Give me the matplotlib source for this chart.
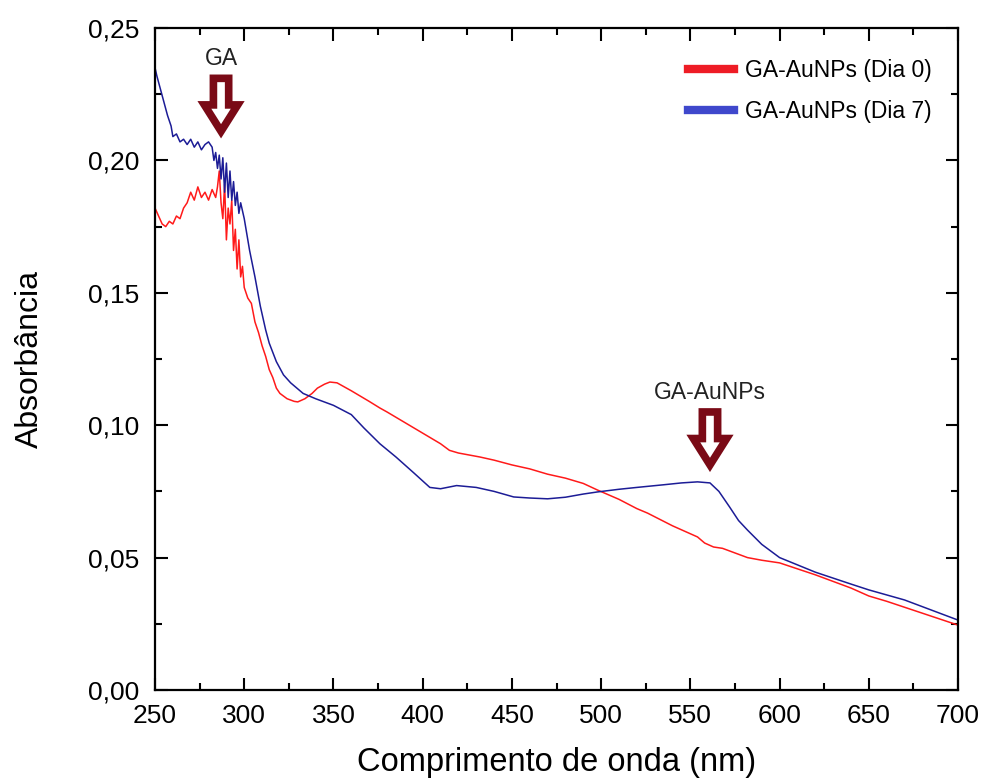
import matplotlib
matplotlib.use("Agg")
import matplotlib.pyplot as plt
from matplotlib.lines import Line2D
from matplotlib.ticker import MultipleLocator, FuncFormatter

# Espectros UV-Vis
wl_dia0 = [250, 252, 254, 256, 258, 260, 262, 264, 266, 268, 270, 272, 274, 276,
           278, 280, 282, 284, 285, 286, 287, 288, 289, 290, 291, 292, 293, 294,
           295, 296, 297, 298, 299, 300, 302, 304, 306, 308, 310, 312, 314, 316,
           318, 320, 324, 328, 330, 334, 338, 341, 345, 348, 352, 356, 360, 370,
           376, 380, 390, 400, 410, 415, 420, 432, 440, 450, 460, 470, 480, 490,
           498, 510, 520, 526, 540, 554, 558, 563, 568, 574, 582, 590, 600, 620,
           640, 650, 660, 680, 700]
abs_dia0 = [0.182, 0.179, 0.176, 0.175, 0.177, 0.176, 0.179, 0.178, 0.182, 0.184,
            0.188, 0.185, 0.190, 0.186, 0.188, 0.185, 0.189, 0.186, 0.190, 0.196,
            0.184, 0.178, 0.191, 0.170, 0.182, 0.176, 0.185, 0.166, 0.174, 0.159,
            0.170, 0.156, 0.160, 0.152, 0.148, 0.146, 0.139, 0.135, 0.130, 0.126,
            0.121, 0.118, 0.114, 0.112, 0.110, 0.109, 0.1088, 0.110, 0.112, 0.114,
            0.1155, 0.1163, 0.116, 0.1145, 0.113, 0.109, 0.1065, 0.105, 0.101,
            0.097, 0.093, 0.0905, 0.0895, 0.088, 0.0868, 0.085, 0.0835, 0.0815,
            0.080, 0.078, 0.0755, 0.072, 0.0685, 0.0668, 0.062, 0.0578, 0.0555,
            0.054, 0.0535, 0.052, 0.050, 0.049, 0.048, 0.0435, 0.0385, 0.0355,
            0.0335, 0.029, 0.0245]

wl_dia7 = [250, 251, 253, 255, 257, 259, 260, 262, 264, 266, 268, 270, 272, 274,
           276, 278, 280, 282, 283, 284, 285, 286, 287, 288, 289, 290, 291, 292,
           293, 294, 295, 296, 297, 298, 300, 303, 306, 309, 312, 314, 318, 322,
           326, 333, 340, 350, 360, 367, 376, 385, 395, 404, 410, 419, 430, 440,
           451, 460, 470, 480, 490, 498, 510, 520, 535, 545, 554, 561, 566, 572,
           577, 582, 590, 600, 620, 640, 650, 670, 700]
abs_dia7 = [0.235, 0.232, 0.227, 0.222, 0.217, 0.213, 0.209, 0.210, 0.207, 0.208,
            0.206, 0.208, 0.205, 0.207, 0.204, 0.206, 0.207, 0.205, 0.200, 0.203,
            0.197, 0.202, 0.193, 0.201, 0.188, 0.199, 0.186, 0.196, 0.185, 0.192,
            0.183, 0.188, 0.180, 0.184, 0.178, 0.166, 0.156, 0.145, 0.136, 0.131,
            0.124, 0.119, 0.116, 0.112, 0.110, 0.1075, 0.104, 0.099, 0.093, 0.088,
            0.082, 0.0765, 0.076, 0.0772, 0.0765, 0.075, 0.0729, 0.0725, 0.0722,
            0.0728, 0.074, 0.0748, 0.0758, 0.0765, 0.0775, 0.0782, 0.0786, 0.0782,
            0.075, 0.0691, 0.064, 0.0604, 0.055, 0.050, 0.0445, 0.040, 0.0378,
            0.034, 0.0264]

series_labels = ["GA-AuNPs (Dia 0)", "GA-AuNPs (Dia 7)"]
line_colors = ["#ff1a1a", "#1c1c96"]
legend_colors = ["#ee1c25", "#3f48cc"]

# Setas de anotacao: (rotulo, x, y_texto, y_cauda, y_ponta)
annotations = [("GA", 287, 0.2385, 0.2310, 0.2110),
               ("GA-AuNPs", 561, 0.1125, 0.1050, 0.0850)]

plt.rcParams["font.family"] = ["Liberation Sans", "DejaVu Sans"]
arrow_color = "#7a0a16"

fig = plt.figure(figsize=(9.83, 7.83), dpi=100)
ax = fig.add_axes([0.1577, 0.1188, 0.8169, 0.8454])

ax.plot(wl_dia0, abs_dia0, color=line_colors[0], lw=1.1)
ax.plot(wl_dia7, abs_dia7, color=line_colors[1], lw=1.1)

for label, x, y_text, y_tail, y_tip in annotations:
    ax.text(x, y_text, label, ha="center", va="center", fontsize=16.5, color="#222222")
    ax.annotate("", xy=(x, y_tip), xytext=(x, y_tail),
                arrowprops=dict(arrowstyle="simple,head_width=24,head_length=19,tail_width=11",
                                mutation_scale=1, fc="white", ec=arrow_color, lw=5.5,
                                shrinkA=0, shrinkB=0, joinstyle="miter"))

ax.set_xlim(250, 700)
ax.set_ylim(0, 0.25)
ax.xaxis.set_major_locator(MultipleLocator(50))
ax.xaxis.set_minor_locator(MultipleLocator(25))
ax.yaxis.set_major_locator(MultipleLocator(0.05))
ax.yaxis.set_minor_locator(MultipleLocator(0.025))
ax.yaxis.set_major_formatter(FuncFormatter(lambda v, _: f"{v:.2f}".replace(".", ",")))

ax.tick_params(which="both", direction="in", top=True, right=True, width=1.5,
               labelsize=19, colors="black")
ax.tick_params(which="major", length=9)
ax.tick_params(which="minor", length=5)
ax.tick_params(axis="x", which="major", pad=10)
ax.tick_params(axis="y", which="major", pad=11)
for sp in ax.spines.values():
    sp.set_linewidth(1.6)

ax.set_xlabel("Comprimento de onda (nm)", fontsize=23.5, labelpad=14)
ax.set_ylabel("Absorbância", fontsize=23, labelpad=31)

handles = [Line2D([], [], color=c, lw=6) for c in legend_colors]
ax.legend(handles, series_labels, loc="upper right", bbox_to_anchor=(0.979, 0.967),
          borderaxespad=0, frameon=False, fontsize=16.5, handlelength=2.0,
          handletextpad=0.5, labelspacing=0.8)

fig.savefig("out.png", dpi=100)
